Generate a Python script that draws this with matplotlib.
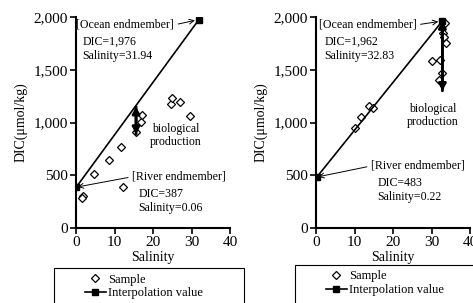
import matplotlib
matplotlib.use("Agg")
import matplotlib.pyplot as plt
from matplotlib.patches import Rectangle

plt.rcParams["font.family"] = ["Liberation Serif", "DejaVu Serif"]

# left panel
sal_a = [1.7, 1.6, 4.7, 8.7, 11.6, 12.2, 15.6, 16.8, 17.1, 24.7, 24.9, 27.1, 29.7]
dic_a = [303, 281, 512, 645, 765, 392, 913, 1008, 1071, 1175, 1229, 1197, 1062]
end_sal_a = [0.06, 31.94]
end_dic_a = [387, 1976]
bio_a = (15.6, 1150, 890)

# right panel
sal_b = [10.1, 11.8, 13.7, 14.8, 30.0, 32.1, 32.6, 32.0, 33.4, 32.9, 33.2, 33.8]
dic_b = [951, 1049, 1156, 1134, 1580, 1590, 1470, 1400, 1940, 1850, 1810, 1750]
end_sal_b = [0.22, 32.83]
end_dic_b = [483, 1962]
bio_b = (32.83, 1962, 1300)

fig = plt.figure(figsize=(4.73, 3.03), dpi=100)
ax1 = fig.add_axes([76 / 473, 75 / 303, 154 / 473, 211 / 303])
ax2 = fig.add_axes([316 / 473, 75 / 303, 154 / 473, 211 / 303])


def draw_panel(ax, sal, dic, end_sal, end_dic, bio, ocean_txt, river_txt, pos):
    ax.plot(sal, dic, linestyle="None", marker="D", markersize=4.5,
            markerfacecolor="white", markeredgecolor="black", markeredgewidth=0.9,
            label="Sample", zorder=3)
    ax.plot(end_sal, end_dic, color="black", lw=1.2, marker="s", markersize=4.5,
            label="Interpolation value", zorder=4)
    # double-headed arrow for biological production
    for a, b in [(bio[1], bio[2]), (bio[2], bio[1])]:
        ax.annotate("", xy=(bio[0], b), xytext=(bio[0], a),
                    arrowprops=dict(arrowstyle="-|>,head_width=0.22,head_length=0.4",
                                    color="black", lw=2, shrinkA=0, shrinkB=0), zorder=5)

    fs = 8.6
    ax.annotate(ocean_txt[0], xy=(end_sal[1], end_dic[1]), xytext=pos["ocean"],
                fontsize=fs, ha="left", va="center",
                arrowprops=dict(arrowstyle="->", color="black", lw=0.7,
                                relpos=(1, 0.5), shrinkA=1, shrinkB=3))
    ax.text(pos["ocean"][0] + 1.5, pos["ocean"][1] - 160, ocean_txt[1], fontsize=fs, va="center")
    ax.text(pos["ocean"][0] + 1.5, pos["ocean"][1] - 295, ocean_txt[2], fontsize=fs, va="center")

    ax.annotate(river_txt[0], xy=(end_sal[0], end_dic[0]), xytext=pos["river"],
                fontsize=fs, ha="left", va="center",
                arrowprops=dict(arrowstyle="->", color="black", lw=0.7,
                                relpos=(0, 0.5), shrinkA=1, shrinkB=1))
    ax.text(pos["river"][0] + 1.6, pos["river"][1] - 160, river_txt[1], fontsize=fs, va="center")
    ax.text(pos["river"][0] + 1.6, pos["river"][1] - 295, river_txt[2], fontsize=fs, va="center")

    ax.text(pos["bio"][0], pos["bio"][1], "biological\nproduction", fontsize=fs,
            ha="center", va="center", linespacing=1.1)

    ax.set_xlim(0, 40)
    ax.set_ylim(0, 2000)
    ax.set_xticks([0, 10, 20, 30, 40])
    ax.set_yticks([0, 500, 1000, 1500, 2000])
    ax.set_yticklabels(["0", "500", "1,000", "1,500", "2,000"])
    ax.spines["top"].set_visible(False)
    ax.spines["right"].set_visible(False)
    ax.spines["left"].set_linewidth(1.5)
    ax.spines["bottom"].set_linewidth(1.5)
    ax.tick_params(direction="out", length=4, width=1.2, labelsize=11, pad=2)
    ax.set_xlabel("Salinity", fontsize=10, labelpad=1)
    ax.set_ylabel("DIC(μmol/kg)", fontsize=10, labelpad=4)


draw_panel(ax1, sal_a, dic_a, end_sal_a, end_dic_a, bio_a,
           ["[Ocean endmember]", "DIC=1,976", "Salinity=31.94"],
           ["[River endmember]", "DIC=387", "Salinity=0.06"],
           {"ocean": (0.1, 1925), "river": (14.6, 486), "bio": (25.8, 880)})
draw_panel(ax2, sal_b, dic_b, end_sal_b, end_dic_b, bio_b,
           ["[Ocean endmember]", "DIC=1,962", "Salinity=32.83"],
           ["[River endmember]", "DIC=483", "Salinity=0.22"],
           {"ocean": (0.7, 1925), "river": (14.3, 588), "bio": (30.3, 1070)})

# legend boxes (partly cut by the figure edge, as in the original)
for ax, x0, x1, top in [(ax1, 54, 244, 268), (ax2, 295, 500, 265)]:
    fig.patches.append(Rectangle((x0 / 473, -0.2), (x1 - x0) / 473, (303 - top) / 303 + 0.2,
                                 transform=fig.transFigure, fill=False,
                                 edgecolor="black", lw=0.8))
    ax.legend(loc="upper left", bbox_to_anchor=((x0 + 28) / 473, (303 - top - 3) / 303),
              bbox_transform=fig.transFigure, frameon=False, fontsize=9,
              handlelength=1.7, handletextpad=0.2, borderpad=0.2,
              labelspacing=0.15, borderaxespad=0)

fig.savefig("out.png", dpi=100)
